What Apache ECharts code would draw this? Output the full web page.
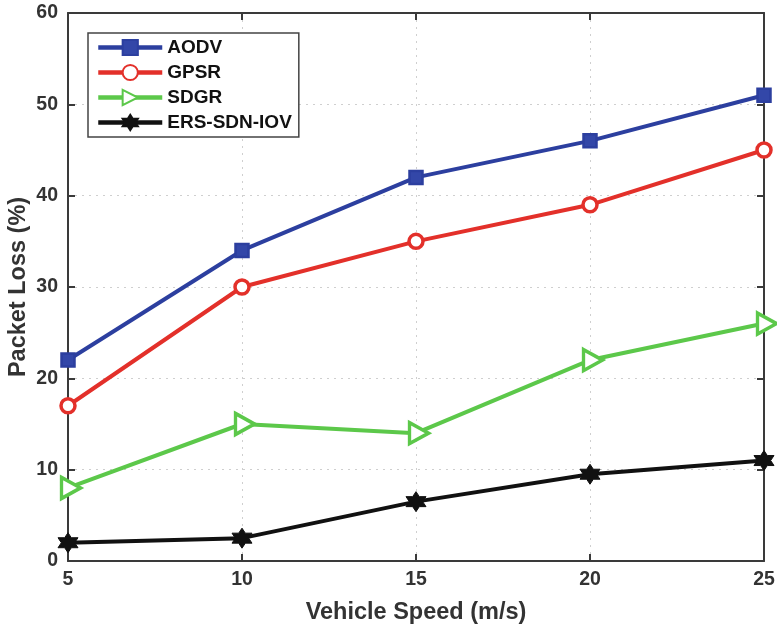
<!DOCTYPE html>
<html>
<head>
<meta charset="utf-8">
<script src="https://cdn.jsdelivr.net/npm/echarts@6/dist/echarts.min.js"></script>
<style>
  html, body { margin: 0; padding: 0; background: #fff; }
  #chart { width: 777px; height: 626px; }
</style>
</head>
<body>
<div id="chart"></div>
<script>
// Vehicle speed (m/s) on the x axis
const speeds = [5, 10, 15, 20, 25];
// Packet loss (%) for each routing scheme
const aodv = [22, 34, 42, 46, 51];
const gpsr = [17, 30, 35, 39, 45];
const sdgr = [8, 15, 14, 22, 26];
const ersSdnIov = [2, 2.5, 6.5, 9.5, 11];

const seriesNames = ['AODV', 'GPSR', 'SDGR', 'ERS-SDN-IOV'];

const pair = (ys) => speeds.map((x, i) => [x, ys[i]]);

const starPath = 'path://M10 0 L12.887 5 L18.66 5 L15.77 10 L18.66 15 L12.887 15 L10 20 L7.113 15 L1.34 15 L4.23 10 L1.34 5 L7.113 5 Z';
const rightTri = 'path://M0 0 L18 10 L0 20 Z';

const axisColor = '#3a3a3a';
const fontFamily = 'Liberation Sans, Arial, sans-serif';
const labelFont = { fontFamily: fontFamily, fontWeight: 'bold', color: '#333' };

const chart = echarts.init(document.getElementById('chart'), null, { renderer: 'canvas' });

const tickStyle = { show: true, inside: true, length: 7, lineStyle: { color: axisColor, width: 2 } };
const lineAxis = { show: true, onZero: false, lineStyle: { color: axisColor, width: 2 } };
const gridLine = { show: true, lineStyle: { color: '#cfcfcf', width: 1, type: [2, 5] } };

chart.setOption({
  backgroundColor: '#fff',
  animation: false,
  grid: { left: 68, right: 13, top: 13, bottom: 65, containLabel: false, outerBoundsMode: 'none' },
  legend: {
    orient: 'vertical',
    left: 88, top: 33,
    padding: [5, 7, 5, 8],
    itemGap: 6,
    itemWidth: 64,
    itemHeight: 19,
    backgroundColor: '#fff',
    borderColor: '#444',
    borderWidth: 1.5,
    borderRadius: 0,
    lineStyle: { width: 4.5 },
    textStyle: { fontSize: 19, color: '#111', fontFamily: fontFamily, fontWeight: 'bold' },
    data: seriesNames
  },
  xAxis: [{
    type: 'value', min: 5, max: 25, interval: 5,
    name: 'Vehicle Speed (m/s)', nameLocation: 'middle', nameGap: 40, nameMoveOverlap: false,
    nameTextStyle: Object.assign({ fontSize: 23.5 }, labelFont),
    axisLine: lineAxis,
    axisTick: tickStyle,
    axisLabel: Object.assign({ fontSize: 19.5, margin: 9 }, labelFont),
    splitLine: gridLine
  }, {
    type: 'value', min: 5, max: 25, interval: 5, position: 'top',
    axisLine: lineAxis, axisTick: tickStyle,
    axisLabel: { show: false }, splitLine: { show: false }
  }],
  yAxis: [{
    type: 'value', min: 0, max: 60, interval: 10,
    name: 'Packet Loss (%)', nameLocation: 'middle', nameGap: 37, nameRotate: 90, nameMoveOverlap: false,
    nameTextStyle: Object.assign({ fontSize: 23.5 }, labelFont),
    axisLine: lineAxis,
    axisTick: tickStyle,
    axisLabel: Object.assign({ fontSize: 19.5, margin: 10 }, labelFont),
    splitLine: gridLine
  }, {
    type: 'value', min: 0, max: 60, interval: 10, position: 'right',
    axisLine: lineAxis, axisTick: tickStyle,
    axisLabel: { show: false }, splitLine: { show: false }
  }],
  series: [
    {
      name: 'AODV', type: 'line', data: pair(aodv),
      symbol: 'rect', symbolSize: 13,
      lineStyle: { color: '#2c3f9f', width: 4 },
      itemStyle: { color: '#3347a8', borderColor: '#2c3f9f', borderWidth: 2.5 }
    },
    {
      name: 'GPSR', type: 'line', data: pair(gpsr),
      symbol: 'circle', symbolSize: 14,
      lineStyle: { color: '#e3302a', width: 4 },
      itemStyle: { color: '#fff', borderColor: '#e3302a', borderWidth: 3.5 }
    },
    {
      name: 'SDGR', type: 'line', data: pair(sdgr),
      symbol: rightTri, symbolSize: [19, 21], symbolOffset: [3, 0],
      lineStyle: { color: '#5cc84a', width: 4 },
      itemStyle: { color: '#fff', borderColor: '#5cc84a', borderWidth: 3.5 }
    },
    {
      name: 'ERS-SDN-IOV', type: 'line', data: pair(ersSdnIov),
      symbol: starPath, symbolSize: 20,
      lineStyle: { color: '#111', width: 4 },
      itemStyle: { color: '#111', borderColor: '#111', borderWidth: 1 }
    }
  ]
});
</script>
</body>
</html>
